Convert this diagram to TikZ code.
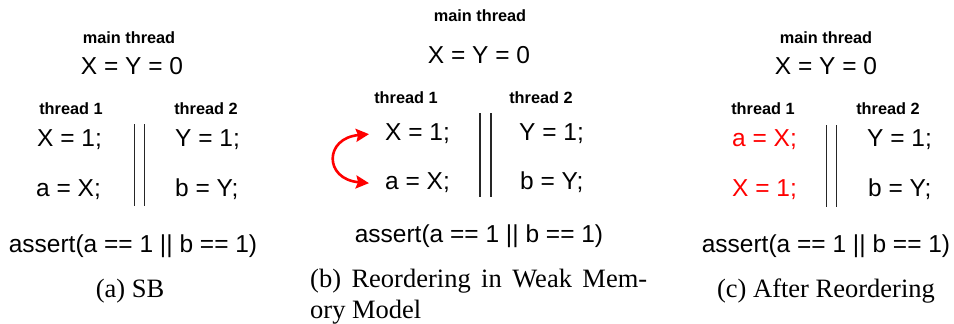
\documentclass[tikz,border=0pt]{standalone}
\usepackage{fontspec}
\setmainfont{Liberation Serif}
\setsansfont{Liberation Sans}
\usetikzlibrary{arrows.meta}
\newcommand{\codefont}{\sffamily\fontsize{24.5}{29}\selectfont}
\newcommand{\lblfont}{\sffamily\bfseries\fontsize{16.3}{19}\selectfont}
\newcommand{\capfont}{\rmfamily\fontsize{26.5}{31}\selectfont}
\begin{document}
\begin{tikzpicture}[x=1pt,y=-1pt,
  code/.style={font=\codefont, inner sep=0pt, anchor=base west},
  codec/.style={font=\codefont, inner sep=0pt, anchor=base},
  lbl/.style={font=\lblfont, inner sep=0pt, anchor=base},
  capt/.style={font=\capfont, inner sep=0pt, anchor=base},
  sep/.style={line width=1.3pt, black!85},
  swap/.style={red, line width=2.6pt, {Stealth[length=13pt,width=13pt,inset=2pt]}-{Stealth[length=13pt,width=13pt,inset=2pt]}},
  hl/.style={text=red}]
\useasboundingbox (0,0) rectangle (954,324);

% ---------- (a) SB ----------
\node[lbl]  (a-main) at (129,43) {main thread};
\node[codec](a-init) at (132,74) {X = Y = 0};
\node[lbl]  (a-t1)   at (71,114) {thread 1};
\node[lbl]  (a-t2)   at (206,114) {thread 2};
\node[code] (a-x1)   at (37,146) {X = 1;};
\node[code] (a-ax)   at (36,196) {a = X;};
\node[code] (a-y1)   at (175,146) {Y = 1;};
\node[code] (a-by)   at (175,196) {b = Y;};
\draw[sep] (134.5,124) -- (134.5,206);
\draw[sep] (144.5,124) -- (144.5,206);
\node[codec](a-assert) at (133,252) {assert(a == 1 || b == 1)};
\node[capt] (a-cap)  at (130,297) {(a) SB};

% ---------- (b) Reordering in Weak Memory Model ----------
\node[lbl]  (b-main) at (480,21) {main thread};
\node[codec](b-init) at (479,63) {X = Y = 0};
\node[lbl]  (b-t1)   at (406,103) {thread 1};
\node[lbl]  (b-t2)   at (541,103) {thread 2};
\node[code] (b-x1)   at (385,140) {X = 1;};
\node[code] (b-ax)   at (385,189) {a = X;};
\node[code] (b-y1)   at (519,140) {Y = 1;};
\node[code] (b-by)   at (520,189) {b = Y;};
\draw[sep] (480,113) -- (480,197);
\draw[sep] (491,113) -- (491,197);
\node[codec](b-assert) at (479,242) {assert(a == 1 || b == 1)};
% two-line caption: the base anchor sits on the last line
\node[font=\capfont, inner sep=0pt, anchor=base west, align=left] (b-cap) at (310,318)
  {\makebox[337pt][s]{(b) Reordering in Weak Mem-}\\ory Model};
\coordinate (b-top) at ([xshift=-16pt,yshift=-1pt]b-x1.west);
\coordinate (b-bot) at ([xshift=-16pt,yshift=-1pt]b-ax.west);
\draw[swap] (b-top) .. controls ([xshift=-45pt,yshift=-4pt]b-top) and ([xshift=-45pt,yshift=4pt]b-bot) .. (b-bot);

% ---------- (c) After Reordering ----------
\node[lbl]  (c-main) at (826,43) {main thread};
\node[codec](c-init) at (826,74) {X = Y = 0};
\node[lbl]  (c-t1)   at (763,114) {thread 1};
\node[lbl]  (c-t2)   at (888,114) {thread 2};
\node[code,hl] (c-ax) at (732,146) {a = X;};
\node[code,hl] (c-x1) at (732,196) {X = 1;};
\node[code] (c-y1)   at (867,146) {Y = 1;};
\node[code] (c-by)   at (868,196) {b = Y;};
\draw[sep] (826.7,125) -- (826.7,207);
\draw[sep] (836.7,125) -- (836.7,207);
\node[codec](c-assert) at (826,252) {assert(a == 1 || b == 1)};
\node[capt] (c-cap)  at (826,297) {(c) After Reordering};
\end{tikzpicture}
\end{document}
